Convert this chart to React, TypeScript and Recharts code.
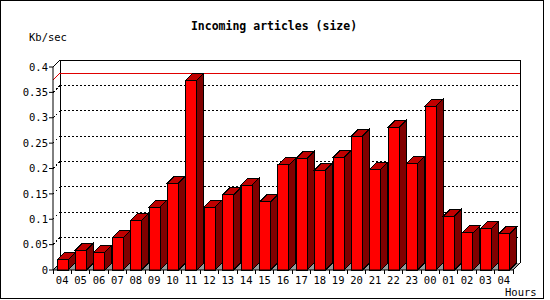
import React from 'react';
import { ComposedChart, Bar, XAxis, YAxis, CartesianGrid, ReferenceLine } from 'recharts';

const hours = ['04', '05', '06', '07', '08', '09', '10', '11', '12', '13', '14', '15', '16', '17', '18', '19', '20', '21', '22', '23', '00', '01', '02', '03', '04'];
const sizeKbSec = [0.02, 0.039, 0.035, 0.064, 0.098, 0.124, 0.171, 0.374, 0.124, 0.148, 0.167, 0.134, 0.207, 0.22, 0.197, 0.222, 0.264, 0.199, 0.281, 0.21, 0.323, 0.106, 0.073, 0.081, 0.071];
const yTicks = [0, 0.05, 0.1, 0.15, 0.2, 0.25, 0.3, 0.35, 0.4];

const title = 'Incoming articles (size)';
const yUnit = 'Kb/sec';
const xUnit = 'Hours';

const data = hours.map((h, i) => ({ hour: h, size: sizeKbSec[i] }));
const maxSize = Math.max(...sizeKbSec);

const W = 550;
const H = 300;
const MARGIN = { top: 67, right: 37, bottom: 0, left: 0 };
const Y_AXIS_W = 53;
const X_AXIS_H = 30;
const D = 7;
const FONT = "'DejaVu Sans Mono', monospace";
const PLOT_W = W - MARGIN.left - MARGIN.right - Y_AXIS_W;
const HALF_BAND = PLOT_W / hours.length / 2;

const gridLine = (p: any) => {
  const pts: number[] = p.horizontalPoints || [];
  const top = typeof p.y === 'number' ? p.y : Math.min(...pts);
  const bottom = typeof p.height === 'number' ? top + p.height : Math.max(...pts);
  const { x1, x2, y1 } = p;
  const k = p.key ?? `g-${p.index}`;
  if (Math.abs(y1 - bottom) < 0.5) {
    return (
      <g key={k} shapeRendering="crispEdges">
        <polygon points={`${x1},${bottom} ${x2},${bottom} ${x2 + D},${bottom - D} ${x1 + D},${bottom - D}`} fill="#999999" stroke="none" />
        <line x1={x1} y1={bottom} x2={x1 + D} y2={bottom - D} stroke="#000" />
        <line x1={x2} y1={bottom} x2={x2 + D} y2={bottom - D} stroke="#000" />
        <line x1={x1 + D} y1={top - D} x2={x1 + D} y2={bottom - D} stroke="#000" />
        <line x1={x2 + D} y1={top - D} x2={x2 + D} y2={bottom - D} stroke="#000" />
        <line x1={x1} y1={top} x2={x1 + D} y2={top - D} stroke="#000" />
        <line x1={x1 + D} y1={top - D} x2={x2 + D} y2={top - D} stroke="#000" />
      </g>
    );
  }
  if (Math.abs(y1 - top) < 0.5) return <g key={k} />;
  return (
    <g key={k} shapeRendering="crispEdges">
      <line x1={x1} y1={y1} x2={x1 + D} y2={y1 - D} stroke="#000" strokeDasharray="2 2" />
      <line x1={x1 + D} y1={y1 - D} x2={x2 + D} y2={y1 - D} stroke="#000" strokeDasharray="2 2" />
    </g>
  );
};

const maxLine = (p: any) => {
  const { x1, x2, y1 } = p;
  return (
    <g shapeRendering="crispEdges">
      <line x1={x1} y1={y1} x2={x1 + D} y2={y1 - D} stroke="#e00000" />
      <line x1={x1 + D} y1={y1 - D} x2={x2 + D} y2={y1 - D} stroke="#e00000" />
    </g>
  );
};

const Bar3D = (p: any) => {
  const { x, y, width: w, height: h } = p;
  if (!(h > 0)) return <g />;
  return (
    <g stroke="#000" strokeWidth={1} shapeRendering="crispEdges">
      <polygon points={`${x},${y} ${x + D},${y - D} ${x + w + D},${y - D} ${x + w},${y}`} fill="#c00000" />
      <polygon points={`${x + w},${y} ${x + w + D},${y - D} ${x + w + D},${y + h - D} ${x + w},${y + h}`} fill="#800000" />
      <rect x={x} y={y} width={w} height={h} fill="#ff0000" />
    </g>
  );
};

const XTick = (p: any) => {
  const { x, y, payload, index } = p;
  return (
    <g>
      <line x1={x + HALF_BAND} y1={y} x2={x + HALF_BAND} y2={y + 4} stroke="#000" shapeRendering="crispEdges" />
      {index === 0 && <line x1={x - HALF_BAND} y1={y} x2={x - HALF_BAND} y2={y + 4} stroke="#000" shapeRendering="crispEdges" />}
      <text x={x} y={y + 14} textAnchor="middle" fontFamily={FONT} fontSize={10.5} fill="#000">
        {payload.value}
      </text>
    </g>
  );
};

export default function App() {
  return (
    <div style={{ position: 'absolute', left: 0, top: 0, width: W, height: H, background: '#fff' }}>
      <svg width={W} height={H} style={{ position: 'absolute', left: 0, top: 0 }}>
        <rect x={0.5} y={0.5} width={543} height={298} fill="#fff" stroke="#000" />
        <text x={274} y={30} textAnchor="middle" fontFamily={FONT} fontWeight="bold" fontSize={11.5} fill="#000">{title}</text>
        <text x={29} y={41} fontFamily={FONT} fontSize={10.5} fill="#000">{yUnit}</text>
        <text x={505} y={296} fontFamily={FONT} fontSize={10.5} fill="#000">{xUnit}</text>
      </svg>
      <div style={{ position: 'absolute', left: 0, top: 0 }}>
        <ComposedChart width={W} height={H} data={data} margin={MARGIN}>
          <CartesianGrid vertical={false} horizontal={gridLine} />
          <ReferenceLine y={maxSize} shape={maxLine} zIndex={-50} ifOverflow="visible" />
          <XAxis dataKey="hour" height={X_AXIS_H} interval={0} tickLine={false} tickSize={0} tickMargin={0} axisLine={{ stroke: '#000' }} tick={XTick} />
          <YAxis
            domain={[0, 0.4]}
            ticks={yTicks}
            interval={0}
            width={Y_AXIS_W}
            tickSize={4}
            tickMargin={1}
            axisLine={{ stroke: '#000' }}
            tickLine={{ stroke: '#000' }}
            tick={{ fill: '#000', fontSize: 10.5, fontFamily: FONT }}
            tickFormatter={(v: number) => String(v)}
          />
          <Bar dataKey="size" barSize={11} isAnimationActive={false} shape={Bar3D} />
        </ComposedChart>
      </div>
    </div>
  );
}
